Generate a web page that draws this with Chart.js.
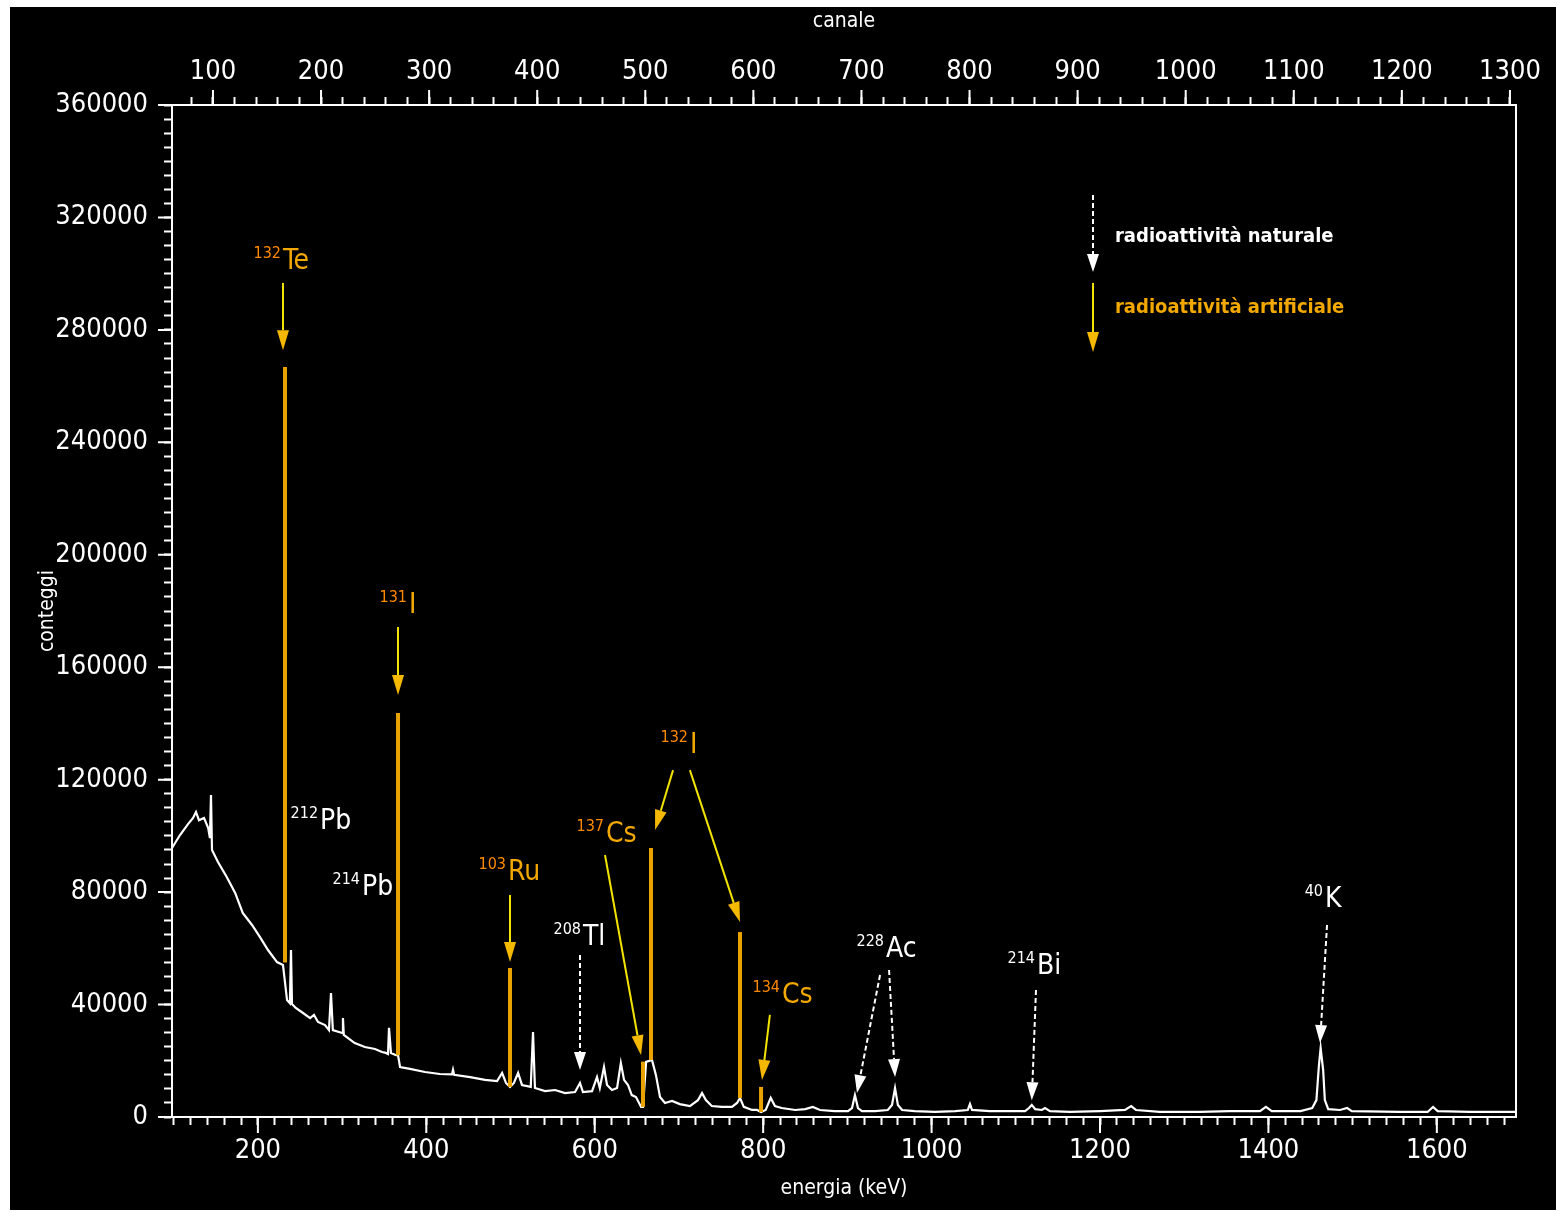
<!DOCTYPE html>
<html>
<head>
<meta charset="utf-8">
<script src="https://cdn.jsdelivr.net/npm/chart.js@4/dist/chart.umd.min.js"></script>
<style>
  html, body { margin: 0; padding: 0; background: #ffffff; width: 1566px; height: 1218px; overflow: hidden; }
  #frame { position: absolute; left: 10px; top: 7px; width: 1546px; height: 1203px; background: #000000; }
  canvas { display: block; }
</style>
</head>
<body>
<div id="frame"><canvas id="spettro" width="1546" height="1203"></canvas></div>
<script>
// Gamma spectrum: energy (keV) and counts of the measured continuum
const spectrumEnergy = [
  98, 107.5, 117, 123, 126.5, 130, 136, 141, 143, 144.3, 145.5, 152.6, 163, 173, 182, 193, 202.5, 212, 222.7, 229.8,
  234.6, 238, 239.3, 240.5, 245, 253.6, 262, 266.6, 271.4, 279.7, 284.4, 286.8, 289, 300, 301, 302, 315, 327, 339,
  347.4, 352, 354.5, 355.7, 358, 364, 366.4, 368.8, 380.6, 398.4, 416, 430.5, 431.7, 433, 452, 469.7, 484, 490,
  494.6, 499.4, 504, 509, 513.6, 524, 526.7, 529, 541, 553, 564.7, 576.6, 582.5, 586, 596.8, 602.7, 606, 611,
  614.6, 620.5, 626.5, 631, 634.8, 639.5, 644, 649, 655, 657.3, 661, 668, 672.7, 677.5, 683.4, 691.8, 701, 713,
  722.6, 727.4, 732, 739, 751, 763, 769, 772.5, 777, 786.8, 792.7, 797.5, 803, 809, 814, 822, 838, 850, 859,
  867.5, 885, 900.8, 905.5, 909, 912.6, 917.4, 933, 948, 953, 956.6, 960, 965, 980, 1004, 1028, 1043, 1045.6,
  1048, 1069, 1093, 1111, 1115.7, 1119, 1123, 1131, 1134.7, 1140.6, 1164, 1200, 1229.7, 1237, 1242.7, 1271,
  1318.7, 1354, 1390, 1397, 1404, 1438, 1452, 1457, 1460, 1462, 1465, 1467, 1471, 1485, 1493.5, 1499, 1556,
  1589, 1595.5, 1601, 1639, 1694
];
const spectrumCounts = [
  95700, 100300, 104200, 106400, 108500, 105600, 106400, 102800, 99200, 114500, 95000, 90700, 85400, 79700, 72600, 68300, 64000, 59400, 55100, 54100,
  41600, 40500, 59400, 40200, 38800, 37000, 35200, 36300, 33800, 32700, 30900, 44100, 30900, 29900, 35200, 29200, 26300, 24900, 24200,
  23100, 22800, 22400, 31700, 22800, 22000, 22000, 17800, 17100, 16000, 15300, 15200, 16800, 15000, 14200, 13200, 12800, 15700,
  12100, 10700, 12100, 15700, 11400, 10700, 30200, 10300, 9200, 9600, 8500, 8900, 12100, 8900, 9200, 14200, 10300, 17800,
  11400, 9600, 10300, 19200, 13200, 11400, 7800, 7100, 3600, 3600, 19600, 20300, 14900, 7100, 5000, 5700, 4600, 3900,
  6000, 8500, 6000, 3900, 3600, 3600, 5000, 6800, 3600, 2500, 2500, 1800, 2500, 6800, 3900, 3200, 2500, 2800, 3600,
  2500, 2100, 2100, 3200, 7800, 3200, 2100, 2100, 2500, 4300, 10300, 4300, 2500, 2100, 1800, 2100, 2500, 4600,
  2500, 2100, 2100, 2100, 3200, 4300, 2800, 2500, 3200, 2100, 1800, 2100, 2500, 3900, 2500, 1800,
  1800, 2100, 2100, 3600, 2100, 2100, 3200, 6000, 18500, 24500, 16700, 6000, 2800, 2500, 3200, 2100, 1800,
  1800, 3600, 2100, 1800, 1800
];

// Artificial (fission product) peaks, drawn as orange columns from continuum to peak top
const peakEnergy = [232.2, 366.4, 499.4, 657.3, 666.8, 772.5, 797.5];
const peakBase   = [55000, 22000, 10700, 3600, 20300, 6800, 1800];
const peakTop    = [266800, 143700, 53000, 19700, 95700, 65800, 10700];

// Labelled ticks
const energyTickLabels  = [200, 400, 600, 800, 1000, 1200, 1400, 1600];
const channelTickLabels = [100, 200, 300, 400, 500, 600, 700, 800, 900, 1000, 1100, 1200, 1300];
const countTickLabels   = [0, 40000, 80000, 120000, 160000, 200000, 240000, 280000, 320000, 360000];

// Nuclide tags: mass number, symbol, anchor [keV, counts], type
const nuclideTags = [
  ['132', 'Te', [229.8, 304100], 'art'],
  ['131', 'I',  [379.4, 181800], 'art'],
  ['212', 'Pb', [273.8, 104900], 'nat'],
  ['214', 'Pb', [323.6, 81500],  'nat'],
  ['103', 'Ru', [497.0, 86800],  'art'],
  ['208', 'Tl', [586.0, 63700],  'nat'],
  ['137', 'Cs', [613.4, 100300], 'art'],
  ['132', 'I',  [713.1, 132000], 'art'],
  ['134', 'Cs', [822.4, 43000],  'art'],
  ['228', 'Ac', [945.9, 59400],  'nat'],
  ['214', 'Bi', [1125.2, 53400], 'nat'],
  ['40',  'K',  [1467.2, 77200], 'nat']
];

// Arrows: [from [keV, counts], to [keV, counts]]
const artificialArrows = [
  [[229.8, 296700], [229.8, 272800]],
  [[366.4, 174300], [366.4, 150100]],
  [[499.4, 79000],  [499.4, 55100]],
  [[612.2, 93200],  [655.0, 22000]],
  [[693.0, 123400], [671.6, 102100]],
  [[713.0, 123400], [772.5, 69400]],
  [[808.0, 36300],  [798.6, 13200]]
];
const naturalArrows = [
  [[582.5, 57600],  [582.5, 16700]],
  [[938.8, 50500],  [911.4, 8500]],
  [[949.5, 52300],  [956.6, 14200]],
  [[1124.0, 45200], [1119.0, 6000]],
  [[1469.6, 68300], [1461.3, 26300]]
];

// Key: arrow span and caption anchor
const keyItems = [
  ['radioattività naturale',    'nat', [1191.7, 328000], [1191.7, 300600], [1217.8, 313000]],
  ['radioattività artificiale', 'art', [1191.7, 296700], [1191.7, 272100], [1217.8, 287800]]
];

const FONT = "'Liberation Sans Narrow', 'DejaVu Sans Condensed', 'Arial Narrow', sans-serif";
const WHITE = '#ffffff';
const PEAK = '#E8A300';
const ART_SHAFT = '#F2E200';
const ART_HEAD = '#F5B800';
const ART_MASS = '#FF8A00';
const ART_SYM = '#F2A800';

Chart.defaults.font.family = FONT;
Chart.defaults.color = WHITE;

function drawArrow(ctx, x1, y1, x2, y2, o) {
  const ang = Math.atan2(y2 - y1, x2 - x1);
  const bx = x2 - o.headLen * Math.cos(ang);
  const by = y2 - o.headLen * Math.sin(ang);
  ctx.save();
  ctx.strokeStyle = o.color;
  ctx.lineWidth = o.width;
  ctx.setLineDash(o.dash || []);
  ctx.beginPath();
  ctx.moveTo(x1, y1);
  ctx.lineTo(bx, by);
  ctx.stroke();
  ctx.setLineDash([]);
  ctx.fillStyle = o.head;
  ctx.beginPath();
  ctx.moveTo(x2, y2);
  ctx.lineTo(bx + o.headWidth * Math.sin(ang), by - o.headWidth * Math.cos(ang));
  ctx.lineTo(bx - o.headWidth * Math.sin(ang), by + o.headWidth * Math.cos(ang));
  ctx.closePath();
  ctx.fill();
  ctx.restore();
}

const natStyle = { color: WHITE, head: WHITE, width: 2, dash: [5, 3], headLen: 18, headWidth: 6 };
const artStyle = { color: ART_SHAFT, head: ART_HEAD, width: 2, dash: [], headLen: 20, headWidth: 6 };

const annotations = {
  id: 'annotations',
  afterDraw(chart) {
    const { ctx } = chart;
    const { x, x2, y } = chart.scales;
    const px = v => x.getPixelForValue(v);
    const py = v => y.getPixelForValue(v);

    // longer marks at the labelled ticks
    ctx.save();
    ctx.strokeStyle = WHITE;
    ctx.lineWidth = 2;
    ctx.beginPath();
    energyTickLabels.forEach(v => { const p = px(v); ctx.moveTo(p, x.top); ctx.lineTo(p, x.top + 16); });
    channelTickLabels.forEach(v => { const p = x2.getPixelForValue(v); ctx.moveTo(p, x2.bottom); ctx.lineTo(p, x2.bottom - 15); });
    countTickLabels.forEach(v => { const p = py(v); ctx.moveTo(y.right, p); ctx.lineTo(y.right - 14, p); });
    ctx.stroke();
    ctx.restore();

    artificialArrows.forEach(([a, b]) => drawArrow(ctx, px(a[0]), py(a[1]), px(b[0]), py(b[1]), artStyle));
    naturalArrows.forEach(([a, b]) => drawArrow(ctx, px(a[0]), py(a[1]), px(b[0]), py(b[1]), natStyle));

    ctx.save();
    ctx.textBaseline = 'middle';
    nuclideTags.forEach(([mass, sym, at, kind]) => {
      const tx = px(at[0]), ty = py(at[1]);
      ctx.font = `16px ${FONT}`;
      ctx.textAlign = 'right';
      ctx.fillStyle = kind === 'art' ? ART_MASS : WHITE;
      ctx.fillText(mass, tx - 2, ty - 8);
      ctx.font = `28px ${FONT}`;
      ctx.textAlign = 'left';
      ctx.fillStyle = kind === 'art' ? ART_SYM : WHITE;
      ctx.fillText(sym, tx, ty);
    });

    keyItems.forEach(([text, kind, from, to, at]) => {
      drawArrow(ctx, px(from[0]), py(from[1]), px(to[0]), py(to[1]), kind === 'art' ? artStyle : natStyle);
      ctx.font = `bold 20px ${FONT}`;
      ctx.textAlign = 'left';
      ctx.textBaseline = 'middle';
      ctx.fillStyle = kind === 'art' ? ART_SYM : WHITE;
      ctx.fillText(text, px(at[0]), py(at[1]));
    });
    ctx.restore();
  }
};

const datasets = [{
  label: 'spettro',
  data: spectrumEnergy.map((e, i) => ({ x: e, y: spectrumCounts[i] })),
  borderColor: WHITE,
  borderWidth: 2.2,
  pointRadius: 0,
  tension: 0,
  order: 2
}];
peakEnergy.forEach((e, i) => {
  datasets.push({
    label: 'picco ' + e,
    data: [{ x: e, y: peakBase[i] }, { x: e, y: peakTop[i] }],
    borderColor: PEAK,
    borderWidth: 4,
    borderCapStyle: 'butt',
    pointRadius: 0,
    order: 1
  });
});

const tickFont = { size: 27 };

new Chart(document.getElementById('spettro'), {
  type: 'line',
  data: { datasets },
  plugins: [annotations],
  options: {
    responsive: false,
    animation: false,
    devicePixelRatio: 1,
    layout: { padding: { left: 0, top: 0, right: 40, bottom: 0 } },
    plugins: { legend: { display: false }, tooltip: { enabled: false } },
    scales: {
      x: {
        type: 'linear', position: 'bottom', min: 98, max: 1694,
        afterFit: s => { s.height = 93; },
        border: { display: true, color: WHITE, width: 2 },
        grid: { display: true, drawOnChartArea: false, drawTicks: true, tickLength: 8, tickColor: WHITE, tickWidth: 2 },
        ticks: {
          stepSize: 20, includeBounds: false, autoSkip: false, maxRotation: 0, padding: 10, color: WHITE, font: tickFont,
          callback: v => energyTickLabels.includes(v) ? String(v) : ''
        },
        title: { display: true, text: 'energia (keV)', color: WHITE, font: { size: 21 }, padding: { top: 0, bottom: 9 } }
      },
      x2: {
        type: 'linear', position: 'top', min: 62.1, max: 1305.6,
        afterFit: s => { s.height = 98; },
        border: { display: true, color: WHITE, width: 2 },
        grid: { display: true, drawOnChartArea: false, drawTicks: true, tickLength: 8, tickColor: WHITE, tickWidth: 2 },
        ticks: {
          stepSize: 20, includeBounds: false, autoSkip: false, maxRotation: 0, padding: 9, color: WHITE, font: tickFont,
          callback: v => channelTickLabels.includes(v) ? String(v) : ''
        },
        title: { display: true, text: 'canale', color: WHITE, font: { size: 21 }, padding: { top: 2, bottom: 0 } }
      },
      y: {
        type: 'linear', position: 'left', min: 0, max: 360000,
        afterFit: s => { s.width = 162; },
        border: { display: true, color: WHITE, width: 2 },
        grid: { display: true, drawOnChartArea: false, drawTicks: true, tickLength: 8, tickColor: WHITE, tickWidth: 2 },
        ticks: {
          stepSize: 5000, autoSkip: false, padding: 16, color: WHITE, font: tickFont,
          callback: v => countTickLabels.includes(v) ? String(v) : ''
        },
        title: { display: true, text: 'conteggi', color: WHITE, font: { size: 21 }, padding: { top: 25, bottom: 0 } }
      },
      yR: {
        type: 'linear', position: 'right', min: 0, max: 360000,
        afterFit: s => { s.width = 0; },
        border: { display: true, color: WHITE, width: 2 },
        grid: { display: false },
        ticks: { display: false }
      }
    }
  }
});
</script>
</body>
</html>
